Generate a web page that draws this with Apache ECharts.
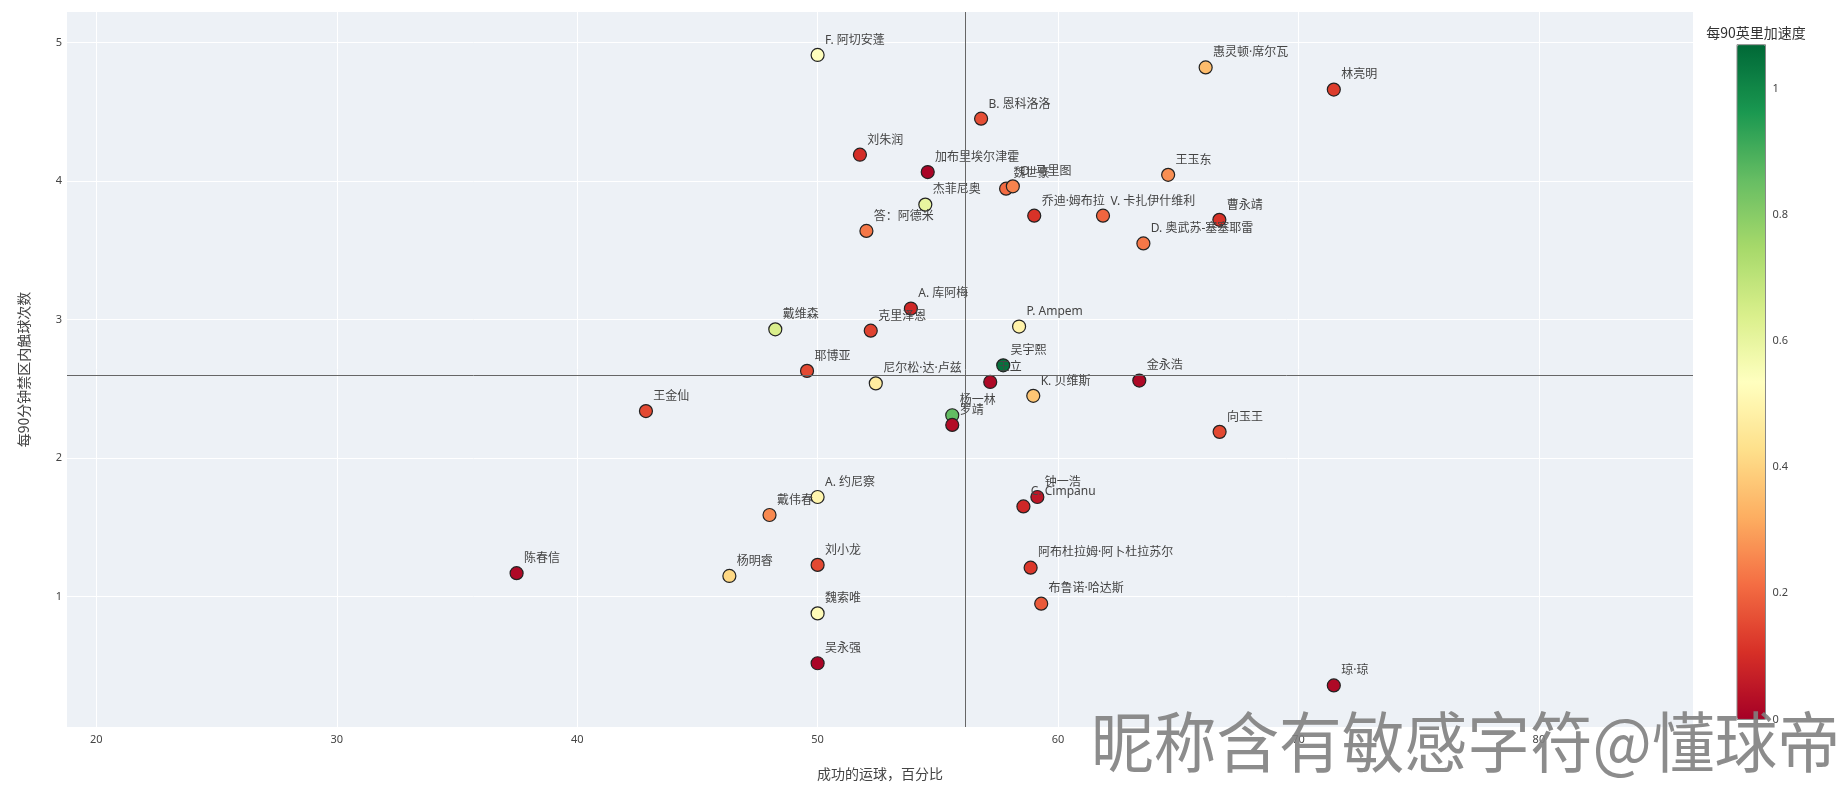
<!DOCTYPE html>
<html><head><meta charset="utf-8">
<script src="https://cdn.jsdelivr.net/npm/echarts@6/dist/echarts.min.js"></script>
<style>html,body{margin:0;padding:0;background:#fff}#c{width:1843px;height:786px}</style>
</head><body><div id="c"></div>
<script>
const playerNames = [
  'F. 阿切安蓬','惠灵顿·席尔瓦','林亮明','B. 恩科洛洛','刘朱润','加布里埃尔津霍','王玉东','魏世豪','O. 马里图','杰菲尼奥',
  '乔迪·姆布拉','V. 卡扎伊什维利','曹永靖','答：阿德米','D. 奥武苏-塞塞耶雷','A. 库阿梅','戴维森','克里泽恩','P. Ampem','耶博亚',
  '吴宇熙','王立','尼尔松·达·卢兹','金永浩','K. 贝维斯','王金仙','杨一林','罗靖','向玉王','A. 约尼察',
  '戴伟春','钟一浩','C. Cimpanu','阿布杜拉姆·阿卜杜拉苏尔','陈春信','杨明睿','刘小龙','布鲁诺·哈达斯','魏索唯','吴永强','琼·琼'
];
const dribbleSuccessPct = [
  50.0, 66.14, 71.47, 56.80, 51.76, 54.58, 64.58, 57.84, 58.12, 54.48,
  59.01, 61.87, 66.71, 52.03, 63.55, 53.88, 48.24, 52.21, 58.38, 49.56,
  57.72, 57.18, 52.42, 63.38, 58.97, 42.86, 55.60, 55.60, 66.72, 50.0,
  48.0, 59.14, 58.56, 58.86, 37.48, 46.33, 50.0, 59.30, 50.0, 50.0, 71.47
];
const boxTouchesPer90 = [
  4.91, 4.82, 4.66, 4.45, 4.19, 4.065, 4.045, 3.945, 3.962, 3.83,
  3.75, 3.75, 3.72, 3.64, 3.55, 3.08, 2.93, 2.92, 2.95, 2.63,
  2.67, 2.55, 2.54, 2.56, 2.45, 2.34, 2.31, 2.24, 2.19, 1.72,
  1.59, 1.72, 1.652, 1.21, 1.17, 1.15, 1.23, 0.95, 0.88, 0.52, 0.36
];
const accelPer90 = [
  0.53, 0.35, 0.13, 0.16, 0.10, 0.01, 0.27, 0.21, 0.25, 0.60,
  0.11, 0.20, 0.11, 0.23, 0.23, 0.09, 0.64, 0.14, 0.49, 0.15,
  1.05, 0.02, 0.47, 0.02, 0.37, 0.15, 0.86, 0.03, 0.15, 0.50,
  0.26, 0.05, 0.09, 0.12, 0.02, 0.41, 0.15, 0.18, 0.52, 0.01, 0.02
];
const refLineX = 56.16;
const refLineY = 2.60;
const xRange = [18.78, 86.41];
const yRange = [0.06, 5.22];
const colorRange = [0, 1.07];
const xAxisTitle = '成功的运球，百分比';
const yAxisTitle = '每90分钟禁区内触球次数';
const colorTitle = '每90英里加速度';
const watermark = '昵称含有敏感字符@懂球帝';
const rdYlGn = ['#a50026','#d73027','#f46d43','#fdae61','#fee08b','#ffffbf','#d9ef8b','#a6d96a','#66bd63','#1a9850','#006837'];

const points = playerNames.map((n, i) => [dribbleSuccessPct[i], boxTouchesPer90[i], accelPer90[i], n]);
const FONT = '"Noto Sans", "Noto Sans CJK SC", sans-serif';
const CJK = '"Noto Sans CJK SC", sans-serif';

const chart = echarts.init(document.getElementById('c'));
chart.setOption({
  animation: false,
  textStyle: { fontFamily: FONT },
  title: [{ text: colorTitle, left: 1751, top: 21, textAlign: 'center',
    textStyle: { fontSize: 14, fontWeight: 'normal', color: '#333', fontFamily: CJK } }],
  grid: [
    { left: 67, right: 150, top: 12, bottom: 57, show: true, backgroundColor: '#edf1f6', borderWidth: 0 },
    { left: 1737, top: 44.7, width: 28.5, height: 674.7, show: false }
  ],
  xAxis: [
    { type: 'value', gridIndex: 0, min: xRange[0], max: xRange[1],
      name: xAxisTitle, nameLocation: 'middle', nameGap: 40,
      nameTextStyle: { fontSize: 14, color: '#444', fontFamily: CJK },
      axisLine: { show: false }, axisTick: { show: false },
      axisLabel: { showMinLabel: false, showMaxLabel: false, fontSize: 11, color: '#444', margin: 7 },
      splitLine: { show: true, showMinLine: false, showMaxLine: false, lineStyle: { color: '#ffffff', width: 1 } } },
    { type: 'value', gridIndex: 1, show: false, min: 0, max: 1 }
  ],
  yAxis: [
    { type: 'value', gridIndex: 0, min: yRange[0], max: yRange[1],
      name: yAxisTitle, nameLocation: 'middle', nameGap: 36,
      nameTextStyle: { fontSize: 14, color: '#444', fontFamily: CJK },
      axisLine: { show: false }, axisTick: { show: false },
      axisLabel: { showMinLabel: false, showMaxLabel: false, fontSize: 11, color: '#444', margin: 5 },
      splitLine: { show: true, showMinLine: false, showMaxLine: false, lineStyle: { color: '#ffffff', width: 1 } } },
    { type: 'value', gridIndex: 1, position: 'right', min: colorRange[0], max: colorRange[1], interval: 0.2, z: 300,
      axisLine: { show: false }, axisTick: { show: false }, splitLine: { show: false },
      axisLabel: { showMinLabel: true, showMaxLabel: false, fontSize: 11, color: '#444', margin: 7 } }
  ],
  visualMap: {
    type: 'continuous', min: colorRange[0], max: colorRange[1], dimension: 2, seriesIndex: 0,
    calculable: false, left: 1732, top: 39.7, itemWidth: 28.5, itemHeight: 674.7,
    text: null, inRange: { color: rdYlGn }, padding: 5
  },
  series: [{
    type: 'scatter', xAxisIndex: 0, yAxisIndex: 0, data: points, symbolSize: 13,
    itemStyle: { borderColor: '#222', borderWidth: 1.2, opacity: 1 },
    label: { show: true, formatter: p => p.data[3], position: [14.5, -7.5], align: 'left', verticalAlign: 'middle',
      fontSize: 12, color: '#444', fontFamily: FONT },
    markLine: { silent: true, symbol: 'none', label: { show: false },
      lineStyle: { color: '#666', width: 1, type: 'solid' },
      data: [{ xAxis: refLineX }, { yAxis: refLineY }] }
  }],
  graphic: [
    { type: 'rect', shape: { x: 1737, y: 44.7, width: 28.5, height: 674.7 },
      style: { fill: 'none', stroke: '#888', lineWidth: 1 }, z: 10, silent: true },
    { type: 'text', x: 1091, y: 742, z: 100, silent: true, scaleX: 0.95,
      style: { text: watermark, font: '66px ' + CJK, fill: 'rgba(128,128,128,0.9)', verticalAlign: 'middle', align: 'left' } }
  ]
});
</script></body></html>
